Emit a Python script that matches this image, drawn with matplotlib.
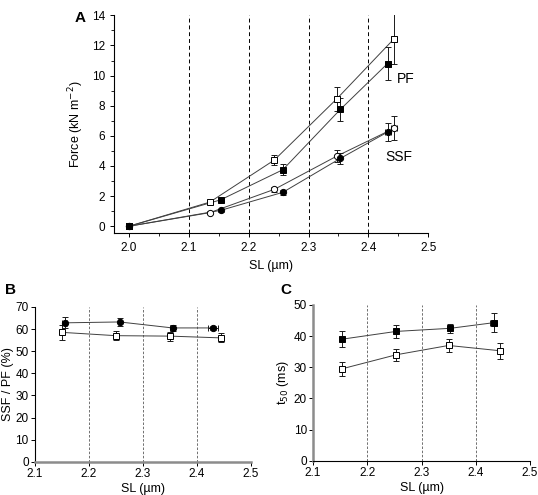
import matplotlib
matplotlib.use("Agg")
import matplotlib.pyplot as plt
import numpy as np
from matplotlib.ticker import MultipleLocator

plt.rcParams["font.family"] = ["Liberation Sans", "DejaVu Sans"]
plt.rcParams["font.size"] = 8.5

# Panel A: force vs SL
pf_open_x = [2.0, 2.135, 2.243, 2.347, 2.443]
pf_open_y = [0, 1.6, 4.4, 8.45, 12.45]
pf_open_err = [0, 0.1, 0.35, 0.8, 1.65]
pf_fill_x = [2.0, 2.153, 2.257, 2.353, 2.432]
pf_fill_y = [0, 1.75, 3.75, 7.75, 10.8]
pf_fill_err = [0, 0.1, 0.35, 0.75, 1.1]
ssf_open_x = [2.0, 2.135, 2.243, 2.347, 2.443]
ssf_open_y = [0, 0.9, 2.45, 4.65, 6.5]
ssf_open_err = [0, 0.08, 0.15, 0.4, 0.8]
ssf_fill_x = [2.0, 2.153, 2.257, 2.353, 2.432]
ssf_fill_y = [0, 1.05, 2.25, 4.5, 6.25]
ssf_fill_err = [0, 0.08, 0.15, 0.35, 0.6]
a_xerr = [0, 0, 0, 0, 0.005]

# Panel B: SSF / PF ratio
b_fill_x = [2.155, 2.257, 2.355, 2.43]
b_fill_y = [62.8, 63.2, 60.5, 60.5]
b_fill_err = [2.5, 1.8, 1.5, 1.0]
b_fill_xerr = [0.005, 0.003, 0.004, 0.01]
b_open_x = [2.15, 2.25, 2.35, 2.445]
b_open_y = [58.5, 57.0, 56.8, 56.0]
b_open_err = [3.5, 2.0, 2.0, 2.0]

# Panel C: t50
c_fill_x = [2.153, 2.253, 2.353, 2.433]
c_fill_y = [39.0, 41.5, 42.5, 44.3]
c_fill_err = [2.5, 2.0, 1.5, 3.0]
c_fill_xerr = [0.003, 0.004, 0.004, 0.007]
c_open_x = [2.153, 2.253, 2.35, 2.445]
c_open_y = [29.5, 34.0, 37.0, 35.3]
c_open_err = [2.3, 2.0, 2.2, 2.5]

grid_x = [2.1, 2.2, 2.3, 2.4, 2.5]


def series(ax, x, y, yerr, xerr, marker, filled, lc="0.25", ms=4.5):
    ax.plot(x, y, color=lc, lw=0.7, zorder=2)
    ax.errorbar(x, y, yerr=yerr, xerr=xerr, fmt="none", ecolor="0.1",
                elinewidth=0.7, capsize=2, capthick=0.7, zorder=3)
    ax.plot(x, y, ls="none", marker=marker, ms=ms, mec="black", mew=0.7,
            mfc="black" if filled else "white", zorder=4)


fig = plt.figure(figsize=(5.38, 4.95), dpi=100)

# ---------------- A ----------------
axA = fig.add_axes([0.212, 0.529, 0.584, 0.440])
for gx in grid_x:
    axA.axvline(gx, color="black", ls=(0, (4, 3)), lw=0.7, zorder=1)
series(axA, pf_open_x, pf_open_y, pf_open_err, a_xerr, "s", False)
series(axA, pf_fill_x, pf_fill_y, pf_fill_err, a_xerr, "s", True)
series(axA, ssf_open_x, ssf_open_y, ssf_open_err, a_xerr, "o", False)
series(axA, ssf_fill_x, ssf_fill_y, ssf_fill_err, a_xerr, "o", True)
axA.set_xlim(1.975, 2.5)
axA.set_ylim(-0.46, 14)
axA.set_xticks([2.0, 2.1, 2.2, 2.3, 2.4, 2.5])
axA.xaxis.set_minor_locator(MultipleLocator(0.05))
axA.yaxis.set_major_locator(MultipleLocator(2))
axA.yaxis.set_minor_locator(MultipleLocator(1))
axA.set_xlabel("SL (µm)", fontsize=9)
axA.set_ylabel("Force (kN m$^{-2}$)", fontsize=9)
axA.text(2.448, 9.8, "PF", fontsize=10, ha="left", va="center")
axA.text(2.428, 4.6, "SSF", fontsize=10, ha="left", va="center")
for s in ["top", "right"]:
    axA.spines[s].set_visible(False)
axA.tick_params(direction="out", length=3, width=0.7)
axA.tick_params(which="minor", length=2, width=0.6)
fig.text(0.139, 0.978, "A", fontsize=11, fontweight="bold", va="top")

# ---------------- B and C ----------------
def small_axes(rect, ylim, ystep, gray_spines):
    ax = fig.add_axes(rect)
    for gx in grid_x[1:]:
        ax.axvline(gx, color="0.35", ls=(0, (3, 2)), lw=0.6, zorder=1)
    ax.set_xlim(2.1, 2.5)
    ax.set_ylim(*ylim)
    ax.set_xticks(grid_x[:1] + grid_x[1:])
    ax.yaxis.set_major_locator(MultipleLocator(ystep))
    for s in ["top", "right"]:
        ax.spines[s].set_visible(False)
    for s in ["left", "bottom"]:
        ax.spines[s].set_linewidth(0.8)
    for s in gray_spines:
        ax.spines[s].set_color("0.55")
        ax.spines[s].set_linewidth(1.8)
    ax.tick_params(direction="out", length=3, width=0.7, pad=1.5)
    ax.set_xlabel("SL (µm)", fontsize=9, labelpad=2)
    return ax


axB = small_axes([0.065, 0.067, 0.401, 0.313], (0, 70), 10, ["bottom"])
series(axB, b_fill_x, b_fill_y, b_fill_err, b_fill_xerr, "o", True)
series(axB, b_open_x, b_open_y, b_open_err, [0.003] * 4, "s", False)
axB.set_ylabel("SSF / PF (%)", fontsize=9, labelpad=1)
fig.text(0.010, 0.428, "B", fontsize=11, fontweight="bold", va="top")

axC = small_axes([0.582, 0.069, 0.403, 0.315], (0, 50), 10, ["left"])
series(axC, c_fill_x, c_fill_y, c_fill_err, c_fill_xerr, "s", True)
series(axC, c_open_x, c_open_y, c_open_err, [0.003] * 4, "s", False)
axC.set_ylabel("t$_{50}$ (ms)", fontsize=9, labelpad=2)
fig.text(0.522, 0.428, "C", fontsize=11, fontweight="bold", va="top")

fig.savefig("out.png", dpi=100)
